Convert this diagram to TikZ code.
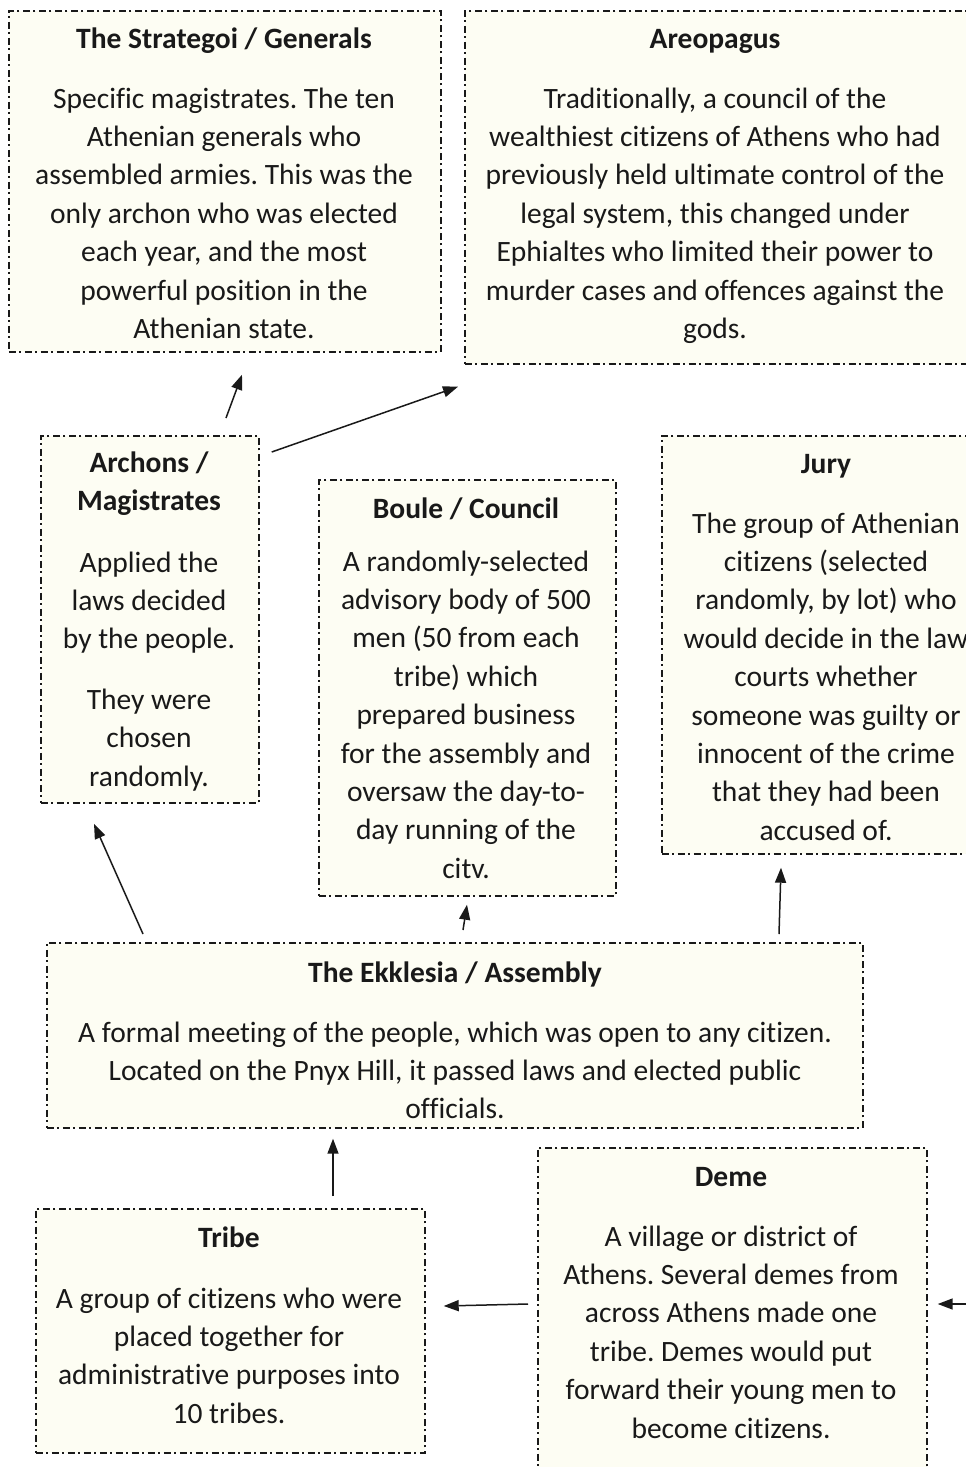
\documentclass[tikz,border=0pt]{standalone}
\usepackage{fontspec}
\setmainfont{Carlito}[Ligatures={NoCommon}]
\usetikzlibrary{arrows.meta}
\definecolor{cream}{RGB}{253,253,243}
\definecolor{ink}{RGB}{25,25,25}
\newcommand{\lines}[1]{\begin{tabular}[t]{@{}c@{}}#1\end{tabular}}
\tikzset{
  box/.style={rectangle, draw=ink, line width=1.7pt, dash pattern=on 7pt off 3.5pt on 2pt off 3.5pt, fill=cream, inner sep=0pt, anchor=north west},
  ttl/.style={font=\frenchspacing\fontsize{29.5}{38.4}\selectfont\bfseries, text=ink, anchor=base, inner sep=0pt},
  txt/.style={font=\frenchspacing\fontsize{29.5}{38.4}\selectfont, text=ink, anchor=base, inner sep=0pt},
  arr/.style={-{Triangle[length=15pt,width=11pt]}, line width=1.5pt, draw=ink},
}
\begin{document}
\begin{tikzpicture}[x=1pt,y=-1pt]
\useasboundingbox (0,0) rectangle (966,1467);
\clip (0,0) rectangle (966,1467);
\fill[white] (0,0) rectangle (966,1467);

% boxes
\node[box, minimum width=432, minimum height=341] (strat) at (8,10) {};
\node[box, minimum width=504, minimum height=353] (areo) at (464,10) {};
\node[box, minimum width=218, minimum height=367] (arch) at (40,435) {};
\node[box, minimum width=297, minimum height=416] (boule) at (318,479) {};
\node[box, minimum width=330, minimum height=418] (jury) at (661,435) {};
\node[box, minimum width=816, minimum height=185] (ekk) at (46,942) {};
\node[box, minimum width=389, minimum height=244] (tribe) at (35,1208) {};
\node[box, minimum width=389, minimum height=340] (deme) at (537,1147) {};

% texts
\node[ttl] (strat-t) at (224,48) {The Strategoi / Generals};
\node[txt] (strat-b) at (224,108) {\lines{Specific magistrates. The ten\\Athenian generals who\\assembled armies. This was the\\only archon who was elected\\each year, and the most\\powerful position in the\\Athenian state.}};

\node[ttl] (areo-t) at (715,48) {Areopagus};
\node[txt] (areo-b) at (715,108) {\lines{Traditionally, a council of the\\wealthiest citizens of Athens who had\\previously held ultimate control of the\\legal system, this changed under\\Ephialtes who limited their power to\\murder cases and offences against the\\gods.}};

\node[ttl] (arch-t) at (149,472) {\lines{Archons /\\Magistrates}};
\node[txt] (arch-b) at (149,572) {\lines{Applied the\\laws decided\\by the people.\\[22pt]They were\\chosen\\randomly.}};

\node[ttl] (boule-t) at (466,518) {Boule / Council};
\node[txt] (boule-b) at (466,571) {\lines{A randomly-selected\\advisory body of 500\\men (50 from each\\tribe) which\\prepared business\\for the assembly and\\oversaw the day-to-\\day running of the\\citv.}};

\node[ttl] (jury-t) at (826,473) {Jury};
\node[txt] (jury-b) at (826,533) {\lines{The group of Athenian\\citizens (selected\\randomly, by lot) who\\would decide in the law\\courts whether\\someone was guilty or\\innocent of the crime\\that they had been\\accused of.}};

\node[ttl] (ekk-t) at (455,982) {The Ekklesia / Assembly};
\node[txt] (ekk-b) at (455,1042) {\lines{A formal meeting of the people, which was open to any citizen.\\Located on the Pnyx Hill, it passed laws and elected public\\officials.}};

\node[ttl] (tribe-t) at (229,1247) {Tribe};
\node[txt] (tribe-b) at (229,1308) {\lines{A group of citizens who were\\placed together for\\administrative purposes into\\10 tribes.}};

\node[ttl] (deme-t) at (731,1186) {Deme};
\node[txt] (deme-b) at (731,1246) {\lines{A village or district of\\Athens. Several demes from\\across Athens made one\\tribe. Demes would put\\forward their young men to\\become citizens.}};

% connectors
\coordinate (ext) at (972,1304);
\draw[arr] ([shift={(186,-17)}]arch.north west) -- ([shift={(234,22)}]strat.south west);
\draw[arr] ([shift={(12,17)}]arch.north east) -- ([shift={(-6,22)}]areo.south west);
\draw[arr] ([shift={(97,-8)}]ekk.north west) -- ([shift={(54,20)}]arch.south west);
\draw[arr] ([shift={(417,-12)}]ekk.north west) -- ([shift={(149,8)}]boule.south west);
\draw[arr] ([shift={(733,-8)}]ekk.north west) -- ([shift={(120,13)}]jury.south west);
\draw[arr] ([shift={(298,-12)}]tribe.north west) -- ([shift={(287,10)}]ekk.south west);
\draw[arr] ([shift={(-9,157)}]deme.north west) -- ([shift={(18,98)}]tribe.north east);
\draw[arr] (ext) -- ([shift={(10,157)}]deme.north east);
\end{tikzpicture}
\end{document}
